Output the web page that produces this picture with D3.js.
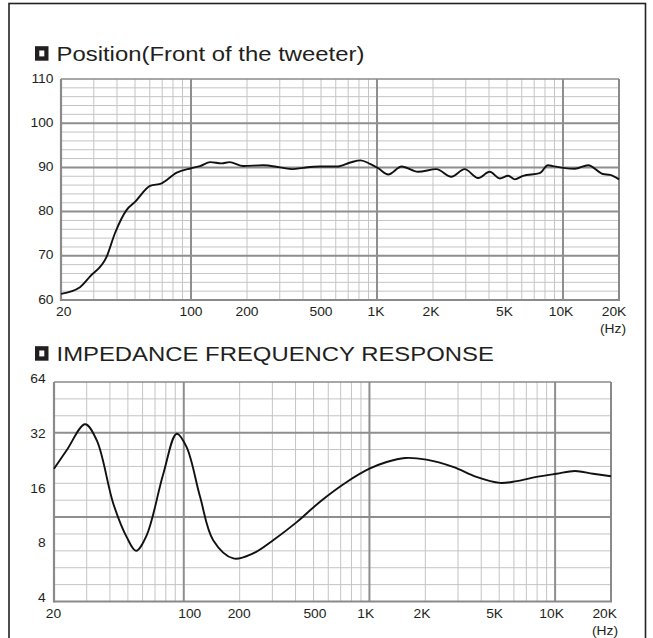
<!DOCTYPE html>
<html>
<head>
<meta charset="utf-8">
<script src="https://cdn.jsdelivr.net/npm/d3@7"></script>
<style>
  html, body { margin: 0; padding: 0; background: #fff; }
  svg { display: block; }
  text { font-family: "Liberation Sans", Arial, "DejaVu Sans", sans-serif; fill: #231f20; }
</style>
</head>
<body>
<svg id="chart" width="653" height="638"></svg>
<script>
// ---------- DATA ----------
const splTitle = "Position(Front of the tweeter)";
const impTitle = "IMPEDANCE FREQUENCY RESPONSE";

const freqTickValues = [20, 100, 200, 500, 1000, 2000, 5000, 10000, 20000];
const freqTickLabels = ["20", "100", "200", "500", "1K", "2K", "5K", "10K", "20K"];
const freqMinorGrid = [30, 40, 50, 60, 70, 80, 90, 200, 300, 400, 500, 600, 700, 800, 900,
                       2000, 3000, 4000, 5000, 6000, 7000, 8000, 9000];
const freqMajorGrid = [100, 1000, 10000];
const unitLabel = "(Hz)";

const splTickValues = [60, 70, 80, 90, 100, 110];
const impTickValues = [4, 8, 16, 32, 64];

// SPL response (Hz, dB)
const splFreq = [20, 25.3, 28.6, 35.2, 39, 45.1, 50, 60.2, 69.6, 83.8, 100, 111.7, 127, 146, 161, 191, 245, 301, 352, 401, 492, 608, 718, 816, 917, 1016, 1150, 1356, 1662, 2086, 2508, 2960, 3496, 4040, 4572, 5072, 5512, 6098, 7500, 8300, 8820, 10000, 11600, 13660, 16400, 17900, 20000];
const splDb   = [61.4, 62.9, 65.3, 69.8, 75.1, 80.4, 82.2, 85.8, 86.4, 88.8, 89.8, 90.3, 91.2, 90.9, 91.2, 90.3, 90.5, 90.0, 89.6, 89.9, 90.2, 90.2, 91.1, 91.6, 90.8, 89.8, 88.4, 90.2, 89.0, 89.6, 87.9, 89.6, 87.6, 89.0, 87.5, 88.1, 87.3, 88.1, 88.7, 90.5, 90.3, 89.9, 89.7, 90.5, 88.5, 88.3, 87.3];

// Impedance (Hz, ohm)
const impFreq = [20, 23.4, 29.4, 34, 41.7, 49.2, 55.3, 63.1, 77.6, 91.6, 103.6, 122.4, 144, 185, 236, 303, 406, 540, 755, 1000, 1238, 1556, 2026, 2820, 3768, 5034, 6200, 7940, 10180, 12800, 16000, 20000];
const impOhm  = [21.4, 27.0, 37.5, 30.6, 13.8, 9.05, 7.59, 9.23, 20.1, 33.3, 28.1, 15.0, 8.68, 6.89, 7.34, 8.68, 10.9, 14.07, 18.1, 21.4, 23.3, 24.5, 24.0, 21.9, 19.3, 17.9, 18.3, 19.3, 20.1, 20.8, 20.1, 19.45];

// ---------- LAYOUT / STYLE ----------
const C = {
  minor: "#c4c4c4", major: "#8e8e8e", frame: "#8a8a8a", line: "#111",
  tickSize: 12.8, tickStretch: 1.08, titleSize: 20.5, titleStretch: 1.165
};
const svg = d3.select("#chart");

// text with horizontal stretch (reference glyphs are wider than Arial)
function stext(parent, x, y, txt, size, stretch, anchor) {
  return parent.append("text")
    .attr("transform", `translate(${x},${y}) scale(${stretch},1)`)
    .attr("font-size", size).attr("text-anchor", anchor || "start").text(txt);
}

// outer frame
svg.append("rect").attr("x", 9).attr("y", 3.5).attr("width", 636.5).attr("height", 700)
  .attr("fill", "none").attr("stroke", "#222").attr("stroke-width", 1.6);

function titleBlock(txt, baseY) {
  const g = svg.append("g");
  g.append("rect").attr("x", 35).attr("y", baseY - 14.5).attr("width", 13.5).attr("height", 14.5).attr("fill", "#231f20");
  g.append("rect").attr("x", 39.3).attr("y", baseY - 10.2).attr("width", 5).attr("height", 5.9).attr("fill", "#fff");
  stext(g, 56.5, baseY, txt, C.titleSize, C.titleStretch);
}

function drawChart(opt) {
  const x = d3.scaleLog().domain([20, 20000]).range([opt.left, opt.right]);
  const y = opt.y;
  const g = svg.append("g");

  // horizontal grid
  opt.hMinor.forEach(v => g.append("line").attr("x1", opt.left).attr("x2", opt.right)
    .attr("y1", v).attr("y2", v).attr("stroke", C.minor).attr("stroke-width", 1));
  // vertical minor grid
  g.selectAll(null).data(freqMinorGrid).join("line")
    .attr("x1", d => x(d)).attr("x2", d => x(d)).attr("y1", opt.top).attr("y2", opt.bottom)
    .attr("stroke", C.minor).attr("stroke-width", 1);
  // horizontal major
  opt.hMajor.forEach(v => g.append("line").attr("x1", opt.left).attr("x2", opt.right)
    .attr("y1", v).attr("y2", v).attr("stroke", C.major).attr("stroke-width", 2));
  // vertical major
  g.selectAll(null).data(freqMajorGrid).join("line")
    .attr("x1", d => x(d)).attr("x2", d => x(d)).attr("y1", opt.top).attr("y2", opt.bottom)
    .attr("stroke", C.major).attr("stroke-width", 2);
  // frame
  g.append("line").attr("x1", opt.left).attr("x2", opt.right).attr("y1", opt.top).attr("y2", opt.top)
    .attr("stroke", C.frame).attr("stroke-width", 1.3);
  g.append("line").attr("x1", opt.right).attr("x2", opt.right).attr("y1", opt.top).attr("y2", opt.bottom)
    .attr("stroke", C.frame).attr("stroke-width", 2);
  g.append("line").attr("x1", opt.left).attr("x2", opt.left).attr("y1", opt.top).attr("y2", opt.bottom + 1)
    .attr("stroke", C.frame).attr("stroke-width", 2.2);
  g.append("line").attr("x1", opt.left).attr("x2", opt.right + 1).attr("y1", opt.bottom).attr("y2", opt.bottom)
    .attr("stroke", C.frame).attr("stroke-width", 2.2);

  // curve
  const line = d3.line().x(d => x(d[0])).y(d => y(d[1])).curve(opt.curve);
  g.append("path").datum(opt.fx.map((f, i) => [f, opt.vy[i]]))
    .attr("d", line).attr("fill", "none").attr("stroke", C.line).attr("stroke-width", 1.9)
    .attr("stroke-linejoin", "round");

  // x tick labels
  freqTickValues.forEach((d, i) => {
    const lab = freqTickLabels[i];
    stext(g, x(d) + (opt.nudge[lab] || 0), opt.bottom + opt.xLabelDy, lab, C.tickSize, C.tickStretch, "middle");
  });
  stext(g, opt.hzX, opt.bottom + opt.xLabelDy + 17.2, unitLabel, C.tickSize, C.tickStretch, "middle");

  // y tick labels
  opt.yTicks.forEach(d => {
    stext(g, opt.yLabelX, y(d) + opt.yLabelDy + 4.5, String(d), C.tickSize, C.tickStretch, "end");
  });
}

// ---- top chart: SPL ----
titleBlock(splTitle, 60.7);
{
  const top = 79, bottom = 300;
  const y = d3.scaleLinear().domain([60, 110]).range([bottom, top]);
  const minor = d3.range(62, 110, 2).filter(v => v % 10 !== 0).map(y);
  const major = [70, 80, 90, 100].map(y);
  drawChart({
    left: 61, right: 619, top, bottom, y,
    hMinor: minor, hMajor: major,
    fx: splFreq, vy: splDb, curve: d3.curveMonotoneX,
    yTicks: splTickValues, yLabelX: 53.5, yLabelDy: -1,
    xLabelDy: 15.8, hzX: 613,
    nudge: {"20": 2.7, "1K": -1, "2K": -2, "5K": -2.5, "10K": -2, "20K": -5}
  });
}

// ---- bottom chart: impedance ----
titleBlock(impTitle, 360.7);
{
  const top = 382, bottom = 601.5;
  const y = d3.scaleLog().base(2).domain([4, 64]).range([bottom, top]);
  const rows = d3.scaleLinear().domain([0, 13]).range([top, bottom]);
  const minor = d3.range(1, 13).filter(i => i !== 3 && i !== 8).map(rows);
  const major = [3, 8].map(rows);
  drawChart({
    left: 54, right: 611, top, bottom, y,
    hMinor: minor, hMajor: major,
    fx: impFreq, vy: impOhm, curve: d3.curveCatmullRom.alpha(0.5),
    yTicks: impTickValues, yLabelX: 45.7, yLabelDy: -3.7,
    xLabelDy: 16, hzX: 605,
    nudge: {"20": -0.5, "100": 6, "200": -0.5, "500": 1.4, "1K": -3.7, "2K": -3.4, "5K": -4.6, "10K": -3.5, "20K": -6.3}
  });
}
</script>
</body>
</html>
